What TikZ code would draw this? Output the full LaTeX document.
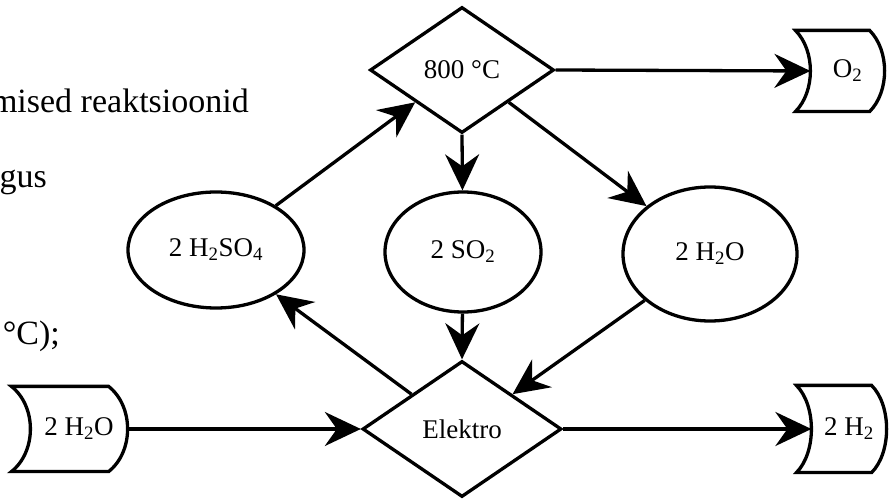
\documentclass[tikz,border=0pt]{standalone}
\usepackage{fontspec}
\setmainfont{Liberation Serif}
\usetikzlibrary{shapes.geometric,arrows.meta,calc}

\newcommand\diagfont{\fontsize{27}{31}\selectfont}
\newcommand\sidefont{\fontsize{34}{40}\selectfont}

% outline of a stored-data box: concave left side, convex right side
% #1 node name, #2 bulge depth
\newcommand\storeoutline[2]{%
  \draw[shapeline]
    ($(#1.north west)+(-#2,0)$) -- ($(#1.north east)+(-#2,0)$)
    .. controls +({4/3*#2},20) and +({4/3*#2},-20) .. ($(#1.south east)+(-#2,0)$)
    -- ($(#1.south west)+(-#2,0)$)
    .. controls +({4/3*#2},-20) and +({4/3*#2},20) .. cycle;
}

\begin{document}
\begin{tikzpicture}[x=1pt,y=-1pt,
  shapeline/.style={draw=black,line width=3.3pt,line join=miter},
  flow/.style={line width=3.3pt,-{Stealth[length=36pt,width=34pt,inset=12pt]}},
  decision/.style={diamond,shapeline,inner sep=0pt,font=\diagfont},
  state/.style={ellipse,shapeline,inner sep=0pt,font=\diagfont},
  store/.style={rectangle,inner sep=0pt,outer sep=1.6pt,font=\diagfont},
  side/.style={anchor=base east,inner sep=0pt,font=\sidefont}]

\clip (0,0) rectangle (892,502);

% text running in from the left
\node[side] (lineA) at (249,113) {mised reaktsioonid};
\node[side] (lineB) at (47,188) {gus};
\node[side] (lineC) at (60,345) {°C);};

% process steps
\node[decision,minimum width=184pt,minimum height=126pt] (heat) at (462,70) {800 °C};
\node[decision,minimum width=199pt,minimum height=136pt] (elec) at (462,429) {Elektro};

% substances
\node[state,minimum width=176pt,minimum height=116pt] (acid) at (216,250) {2 H\textsubscript{2}SO\textsubscript{4}};
\node[state,minimum width=156pt,minimum height=120pt] (so2) at (463,252) {2 SO\textsubscript{2}};
\node[state,minimum width=174pt,minimum height=134pt] (water) at (710,254) {2 H\textsubscript{2}O};

% inputs and outputs
\node[store,minimum width=71pt,minimum height=78pt] (oxy) at (847.5,71) {O\textsubscript{2}};
\node[store,minimum width=72pt,minimum height=84pt] (hyd) at (849,429) {2 H\textsubscript{2}};
\node[store,minimum width=94pt,minimum height=82pt] (feed) at (79,429) {2 H\textsubscript{2}O};
\storeoutline{oxy}{15}
\storeoutline{hyd}{15}
\storeoutline{feed}{19}

% flows
\draw[flow] (heat.east) -- (oxy.west);
\draw[flow] (heat.south) -- (so2);
\draw[flow] ($(heat.east)!0.5!(heat.south)$) -- (water);
\draw[flow] (acid) -- ($(heat.west)!0.5!(heat.south)$);
\draw[flow] ($(elec.west)!0.5!(elec.north)$) -- (acid);
\draw[flow] (so2) -- (elec.north);
\draw[flow] (water) -- ($(elec.east)!0.5!(elec.north)$);
\draw[flow] (feed.east) -- (elec.west);
\draw[flow] (elec.east) -- (hyd.west);
\end{tikzpicture}
\end{document}
